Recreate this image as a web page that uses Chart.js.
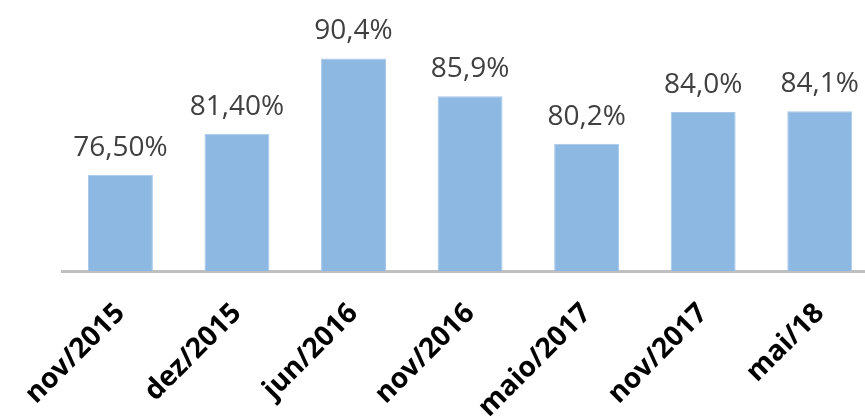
<!DOCTYPE html>
<html>
<head>
<meta charset="utf-8">
<script src="https://cdn.jsdelivr.net/npm/chart.js@4/dist/chart.umd.min.js"></script>
<style>
  html, body { margin: 0; padding: 0; background: #fff; overflow: hidden; }
  #wrap { width: 865px; height: 416px; overflow: hidden; }
</style>
</head>
<body>
<div id="wrap"><canvas id="chart" width="880" height="416"></canvas></div>
<script>
// Data
const periods = ["nov/2015", "dez/2015", "jun/2016", "nov/2016", "maio/2017", "nov/2017", "mai/18"];
const rates = [76.5, 81.4, 90.4, 85.9, 80.2, 84.0, 84.1];
const decimals = [2, 2, 1, 1, 1, 1, 1];

const BAR_COLOR = "#8db8e2";
const FONT = "'Open Sans', 'Liberation Sans', sans-serif";

function formatRate(v, d) {
  return v.toFixed(d).replace(".", ",") + "%";
}

// draws the value above each bar
const valueLabels = {
  id: "valueLabels",
  afterDatasetsDraw(chart) {
    const c = chart.ctx;
    const meta = chart.getDatasetMeta(0);
    c.save();
    c.font = "28px " + FONT;
    c.fillStyle = "#404040";
    c.textAlign = "center";
    c.textBaseline = "alphabetic";
    meta.data.forEach((bar, i) => {
      c.fillText(formatRate(rates[i], decimals[i]), bar.x, bar.y - 19);
    });
    c.restore();
  }
};

const ctx = document.getElementById("chart").getContext("2d");
new Chart(ctx, {
  type: "bar",
  data: {
    labels: periods,
    datasets: [{
      data: rates,
      backgroundColor: BAR_COLOR,
      borderColor: "#a6c7ea",
      borderWidth: 1,
      barPercentage: 0.557,
      categoryPercentage: 1
    }]
  },
  options: {
    responsive: false,
    animation: false,
    layout: { padding: { left: 62, top: 20, right: 2, bottom: 0 } },
    plugins: {
      legend: { display: false },
      tooltip: { enabled: false }
    },
    scales: {
      x: {
        grid: { display: false, drawTicks: false },
        border: { display: true, color: "#bfbfbf", width: 3 },
        ticks: {
          minRotation: 45,
          maxRotation: 45,
          padding: 26,
          color: "#000",
          font: { family: FONT, size: 28, weight: "bold" }
        },
        afterFit: (scale) => { scale.height = 145; }
      },
      y: {
        display: false,
        min: 65,
        max: 95
      }
    }
  },
  plugins: [valueLabels]
});
</script>
</body>
</html>
